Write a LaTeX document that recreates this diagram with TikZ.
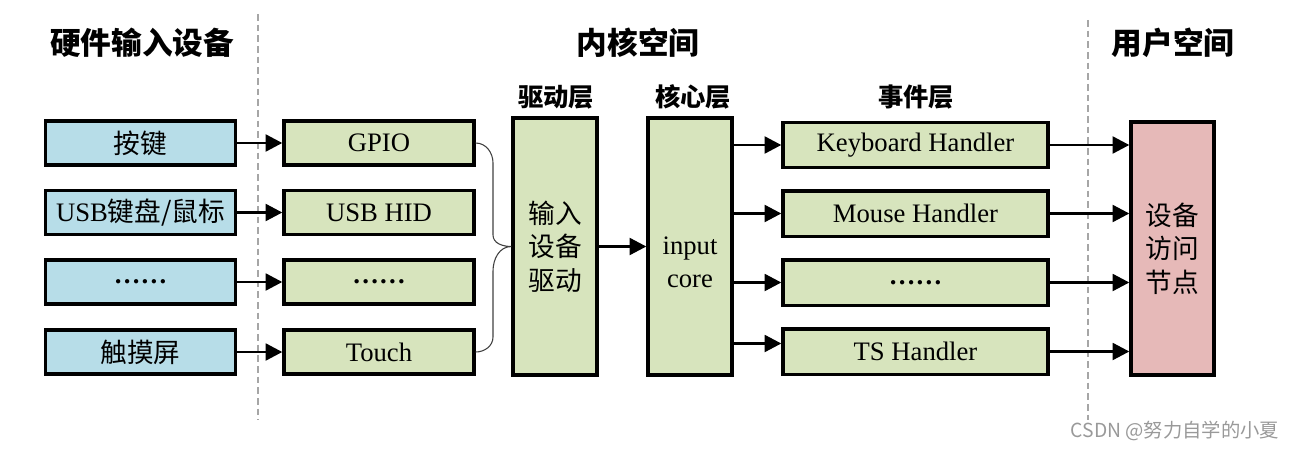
\documentclass[tikz,border=0pt]{standalone}
\usepackage{fontspec}
\setmainfont{Liberation Serif}
\newfontfamily\cjk{Noto Sans CJK SC}
\usetikzlibrary{arrows.meta}
\definecolor{hwblue}{HTML}{B7DDE8}
\definecolor{kgreen}{HTML}{D7E4BD}
\definecolor{upink}{HTML}{E6B9B8}
\definecolor{dgray}{HTML}{A6A6A6}
\tikzset{
  box/.style={draw=black, line width=2.5pt, inner sep=0pt, align=center, font=\fontsize{20}{25}\selectfont},
  hwbox/.style={box, fill=hwblue, minimum width=142.5pt, minimum height=33pt},
  drvbox/.style={box, fill=kgreen, minimum width=142.5pt, minimum height=33pt},
  tallbox/.style={box, fill=kgreen, minimum width=63pt, minimum height=192.75pt},
  hdlbox/.style={box, fill=kgreen, minimum width=198.75pt, minimum height=34pt},
  pinkbox/.style={box, fill=upink, minimum width=62.25pt, minimum height=189.75pt},
  arr/.style={line width=2.2pt, -{Triangle[length=12.5pt,width=12.5pt]}},
  sep/.style={draw=dgray, line width=1.5pt, dash pattern=on 5pt off 3pt},
  head/.style={font=\fontsize{23}{26}\selectfont\cjk\bfseries},
  layer/.style={font=\fontsize{19}{20}\selectfont\cjk\bfseries},
  dots/.style={font=\fontsize{20}{25}\selectfont\bfseries},
}
\begin{document}
\begin{tikzpicture}[x=0.75pt,y=-0.75pt]
\useasboundingbox (0,0) rectangle (1295,449);
% separators
\coordinate (s1t) at (258,14);
\coordinate (s1b) at (258,420);
\coordinate (s2t) at (1088,20);
\coordinate (s2b) at (1088,420);
\draw[sep] (s1t) -- (s1b);
\draw[sep] (s2t) -- (s2b);
% headers
\node[head] (h1) at (142,43) {硬件输入设备};
\node[head] (h2) at (638,43) {内核空间};
\node[head] (h3) at (1173,43) {用户空间};
\node[layer] (l1) at (556,97) {驱动层};
\node[layer] (l2) at (693,97) {核心层};
\node[layer] (l3) at (916,97) {事件层};
% hardware column
\node[hwbox] (b1) at (140.5,143) {\cjk 按键};
\node[hwbox] (b2) at (140.5,212.5) {USB{\cjk 键盘/鼠标}};
\node[hwbox,dots] (b3) at (140.5,282) {……};
\node[hwbox] (b4) at (140.5,352) {\cjk 触摸屏};
% driver column
\node[drvbox] (g1) at (379,143) {GPIO};
\node[drvbox] (g2) at (379,212.5) {USB HID};
\node[drvbox,dots] (g3) at (379,282) {……};
\node[drvbox] (g4) at (379,352) {Touch};
% tall boxes
\node[tallbox] (drv) at (555,246.5) {\cjk 输入\\\cjk 设备\\\cjk 驱动};
\node[tallbox, label={[align=center, font=\fontsize{20}{25}\selectfont, yshift=-12pt]center:input\\core}] (core) at (690,246.5) {};
% handlers
\node[hdlbox] (k1) at (915.5,145) {Keyboard Handler};
\node[hdlbox] (k2) at (915.5,213.5) {Mouse Handler};
\node[hdlbox,dots] (k3) at (915.5,282.5) {……};
\node[hdlbox] (k4) at (915.5,351.5) {TS Handler};
% user node
\node[pinkbox] (usr) at (1172.5,248.5) {\cjk 设备\\\cjk 访问\\\cjk 节点};
% arrows hw -> drivers
\draw[arr] (b1.east) -- (g1.west);
\draw[arr] (b2.east) -- (g2.west);
\draw[arr] (b3.east) -- (g3.west);
\draw[arr] (b4.east) -- (g4.west);
% brace
\coordinate (btip) at (drv.west);
\draw[line width=0.8pt, black!75] (g1.east) to[out=0,in=90] (493,163) -- (493,235) to[out=-90,in=180] (btip)
  (btip) to[out=180,in=90] (493,271) -- (493,337) to[out=-90,in=0] (g4.east);
% driver -> core
\draw[arr] (drv.east) -- (core.west);
% core -> handlers
\draw[arr] (core.east |- k1.west) -- (k1.west);
\draw[arr] (core.east |- k2.west) -- (k2.west);
\draw[arr] (core.east |- k3.west) -- (k3.west);
\coordinate (k4in) at ([yshift=6pt]k4.west);
\draw[arr] (core.east |- k4in) -- (k4in);
% handlers -> user
\draw[arr] (k1.east) -- (usr.west |- k1.east);
\draw[arr] (k2.east) -- (usr.west |- k2.east);
\draw[arr] (k3.east) -- (usr.west |- k3.east);
\draw[arr] (k4.east) -- (usr.west |- k4.east);
% watermark
\node[font=\fontsize{14.5}{16}\selectfont\cjk, text=black!40] (wm) at (1175,431) {CSDN @努力自学的小夏};
\end{tikzpicture}
\end{document}
